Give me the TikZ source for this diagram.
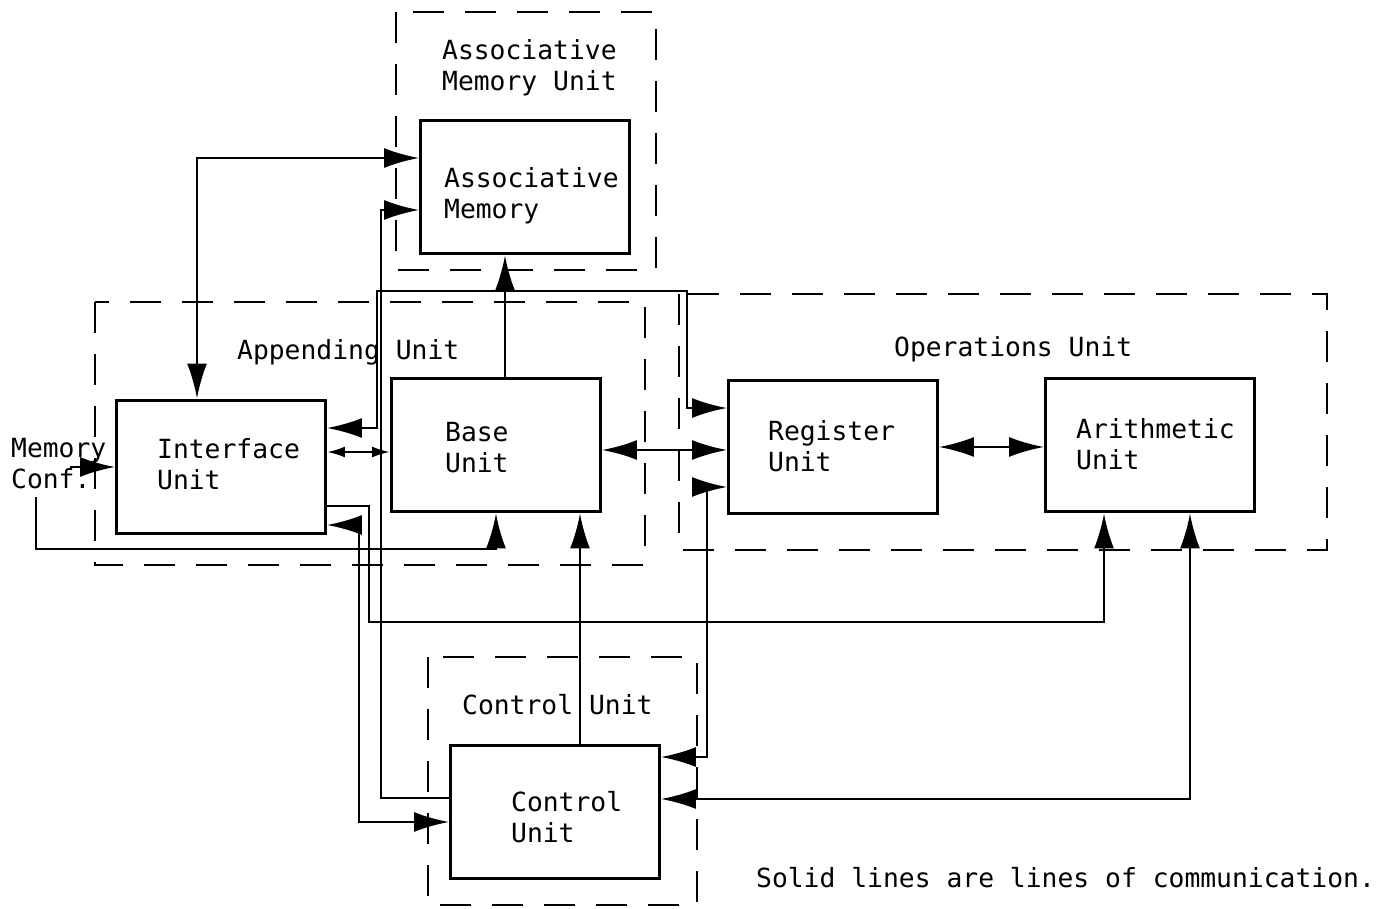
\documentclass[tikz,border=0pt]{standalone}
\usepackage{fontspec}
\setmainfont{DejaVu Sans Mono}
\usetikzlibrary{arrows.meta, calc}
\tikzset{
  every picture/.style={line width=1.3pt},
  unit/.style={draw, line width=1.7pt, minimum width=4.18cm, minimum height=2.68cm, inner sep=0pt},
  group/.style={draw, line width=1.6pt, dash pattern=on 0.62cm off 0.42cm},
  txt/.style={font=\fontsize{15}{17.6}\selectfont, align=left, inner sep=0pt},
  arr/.style={-{Latex[length=0.7cm, width=0.4cm]}},
  biarr/.style={{Latex[length=0.7cm, width=0.4cm]}-{Latex[length=0.7cm, width=0.4cm]}},
  smallbiarr/.style={{Latex[length=0.36cm, width=0.22cm]}-{Latex[length=0.36cm, width=0.22cm]}},
}

\begin{document}
\begin{tikzpicture}[x=0.02cm, y=-0.02cm]
  \useasboundingbox (0,0) rectangle (1394,909);
  % dashed outlines of the units
  \draw[group] (396,12) rectangle (656,270);
  \draw[group] (95,302) rectangle (645,565);
  \draw[group] (679,294) rectangle (1327,550);
  \draw[group] (428,657) rectangle (697,905);
  \node[txt, anchor=north west] (amulbl) at (441,38) {Associative\\Memory Unit};
  \node[txt, anchor=base west] (applbl) at (236,359) {Appending Unit};
  \node[txt, anchor=base west] (opslbl) at (893,356) {Operations Unit};
  \node[txt, anchor=base west] (ctllbl) at (461,714) {Control Unit};

  % boxes
  \node[unit] (amem) at (525,187) {};
  \node[unit] (iface) at (221,467) {};
  \node[unit] (base) at (496,445) {};
  \node[unit] (reg) at (833,447) {};
  \node[unit] (arith) at (1150,445) {};
  \node[unit] (ctrl) at (555,812) {};
  \node[txt, anchor=north west] (amemtxt) at (443,166) {Associative\\Memory};
  \node[txt, anchor=north west] (ifacetxt) at (156,437) {Interface\\Unit};
  \node[txt, anchor=north west] (basetxt) at (444,421) {Base\\Unit};
  \node[txt, anchor=north west] (regtxt) at (767,419) {Register\\Unit};
  \node[txt, anchor=north west] (arithtxt) at (1075,417) {Arithmetic\\Unit};
  \node[txt, anchor=north west] (ctrltxt) at (510,790) {Control\\Unit};
  \node[txt, anchor=north west] (memconf) at (10,437) {Memory\\Conf.};
  \node[txt, anchor=base west] (note) at (755,887) {Solid lines are lines of communication.};
  \coordinate (mcin) at (36,497);

  % lines of communication
  \draw[arr] ([xshift=-0.9cm]iface.west) -- (iface.west);
  \draw[arr] (mcin) -- ++(0,52) -| (base.south);
  \draw[biarr] ([xshift=-0.48cm]iface.north) |- ([yshift=0.58cm]amem.west);
  \draw[arr] ([yshift=0.28cm]ctrl.west) -- ++(-68,0) |- ([yshift=-0.46cm]amem.west);
  \draw[biarr] ([yshift=0.78cm]iface.east) -- ++(50,0) -- ++(0,-137) -- ++(310,0) |- ([yshift=0.78cm]reg.west);
  \draw[smallbiarr] ([yshift=0.3cm]iface.east) -- ([yshift=0.3cm]iface.east -| base.west);
  \draw[arr] ([xshift=0.18cm]base.north) -- ([xshift=0.18cm]base.north |- amem.south);
  \draw[biarr] ([yshift=-0.1cm]base.east) -- ([yshift=-0.1cm]base.east -| reg.west);
  \draw[biarr] (reg.east) -- (reg.east -| arith.west);
  \draw[arr] ([yshift=-0.78cm]iface.east) -- ++(42,0) -- ++(0,116) -| ([xshift=-0.92cm]arith.south);
  \draw[biarr] ([yshift=-1.16cm]iface.east) -- ++(32,0) |- ([yshift=-0.2cm]ctrl.west);
  \draw[arr] ([xshift=0.5cm]ctrl.north) -- ([xshift=0.5cm]ctrl.north |- base.south);
  \draw[biarr] ([yshift=-0.8cm]reg.west) -- ++(-20,0) |- ([yshift=1.1cm]ctrl.east);
  \draw[biarr] ([xshift=0.8cm]arith.south) |- ([yshift=0.26cm]ctrl.east);
\end{tikzpicture}
\end{document}
